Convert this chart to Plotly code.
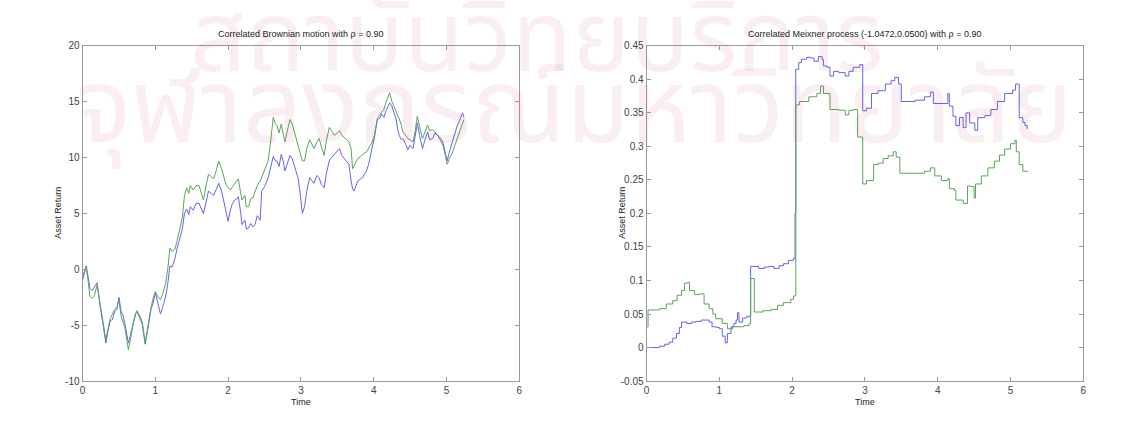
import plotly.graph_objects as go

# ---------------- Correlated Brownian motion (rho = 0.90) ----------------
bm_time = [
    0.00, 0.03, 0.05, 0.08, 0.10, 0.13, 0.16, 0.20, 0.23, 0.27, 0.30, 0.32, 0.35, 0.38, 0.41,
    0.44, 0.47, 0.50, 0.53, 0.55, 0.58, 0.60, 0.63, 0.66, 0.70, 0.73, 0.75, 0.78, 0.82, 0.84,
    0.86, 0.89, 0.91, 0.94, 0.97, 1.00, 1.03, 1.07, 1.10, 1.14, 1.17, 1.20, 1.23, 1.27, 1.30,
    1.34, 1.37, 1.40, 1.43, 1.46, 1.48, 1.52, 1.56, 1.60, 1.63, 1.66, 1.70, 1.73, 1.77, 1.80,
    1.84, 1.87, 1.91, 1.94, 1.97, 2.00, 2.03, 2.06, 2.09, 2.12, 2.14, 2.17, 2.19, 2.23, 2.25,
    2.28, 2.31, 2.34, 2.37, 2.40, 2.44, 2.46, 2.50, 2.55, 2.58, 2.62, 2.65, 2.67, 2.70, 2.73,
    2.76, 2.78, 2.81, 2.85, 2.88, 2.90, 2.93, 2.96, 2.99, 3.02, 3.05, 3.08, 3.12, 3.15, 3.18,
    3.22, 3.25, 3.28, 3.32, 3.35, 3.39, 3.42, 3.46, 3.50, 3.53, 3.56, 3.60, 3.63, 3.66, 3.69,
    3.71, 3.73, 3.76, 3.78, 3.82, 3.85, 3.87, 3.90, 3.93, 3.96, 3.98, 4.01, 4.05, 4.08, 4.11,
    4.14, 4.17, 4.20, 4.22, 4.25, 4.28, 4.31, 4.33, 4.35, 4.38, 4.40, 4.44, 4.47, 4.50, 4.54,
    4.57, 4.60, 4.63, 4.67, 4.70, 4.74, 4.77, 4.81, 4.84, 4.88, 4.91, 4.95, 4.98, 5.01, 5.04,
    5.08, 5.11, 5.15, 5.18, 5.22, 5.24,
]
bm_asset1 = [
    -1.0, -0.3, 0.3, -0.8, -1.7, -1.9, -1.6, -1.2, -2.8, -4.5, -6.0, -6.6, -5.5, -4.6, -4.5,
    -3.8, -3.6, -2.5, -3.8, -4.0, -4.8, -5.6, -6.6, -5.8, -4.6, -3.9, -3.8, -4.3, -4.9, -5.8,
    -6.7, -5.6, -4.7, -3.6, -3.0, -2.1, -2.9, -4.0, -3.4, -2.5, -1.3, 0.3, 0.2, 1.0, 1.9,
    2.9, 3.6, 5.0, 5.4, 4.9, 5.6, 5.3, 5.9, 5.9, 5.4, 5.0, 6.1, 7.0, 6.8, 6.6,
    7.2, 7.7, 7.0, 6.2, 5.2, 4.3, 5.3, 5.9, 6.2, 6.3, 6.5, 5.2, 4.0, 4.4, 3.6,
    3.7, 4.1, 3.8, 4.0, 4.8, 4.4, 7.0, 7.4, 8.2, 9.0, 10.1, 9.7, 9.7, 9.2, 10.3,
    9.6, 8.8, 9.4, 10.2, 9.9, 9.5, 8.8, 8.2, 6.8, 5.0, 5.6, 7.0, 8.2, 7.9, 7.7,
    8.4, 8.2, 7.6, 7.3, 8.6, 9.7, 10.0, 10.3, 10.5, 10.8, 10.2, 9.9, 9.6, 9.4, 7.9,
    7.2, 7.0, 7.6, 7.9, 8.1, 8.2, 8.5, 8.8, 9.4, 10.3, 10.8, 11.8, 13.4, 13.5, 13.9,
    13.6, 14.2, 14.6, 14.9, 14.6, 14.0, 13.4, 12.5, 12.0, 11.6, 11.7, 11.2, 10.7, 11.1, 10.8,
    11.9, 13.1, 12.0, 10.8, 11.5, 12.3, 11.6, 11.7, 12.2, 12.0, 11.8, 11.4, 10.6, 9.7, 10.5,
    11.4, 12.1, 12.9, 13.3, 14.0, 13.6,
]
bm_asset2 = [
    -0.6, -0.2, 0.2, -1.2, -2.4, -2.6, -2.4, -1.4, -2.6, -4.2, -5.7, -6.3, -5.3, -4.4, -4.0,
    -3.6, -3.4, -2.8, -4.2, -4.6, -5.2, -6.0, -7.2, -6.2, -4.7, -4.0, -3.7, -4.1, -4.7, -5.6,
    -6.6, -5.4, -4.4, -3.4, -2.6, -2.0, -2.4, -2.7, -2.2, -1.3, 0.0, 1.9, 1.6, 1.8, 2.6,
    3.6, 4.6, 6.6, 7.3, 6.8, 7.5, 7.1, 7.5, 7.5, 6.8, 6.2, 7.6, 8.5, 8.3, 8.1,
    8.9, 9.7, 9.0, 8.2, 7.6, 7.3, 7.1, 7.4, 7.7, 7.9, 8.1, 6.9, 6.2, 6.6, 5.6,
    5.6, 6.3, 6.4, 7.0, 7.5, 7.9, 8.2, 8.9, 9.7, 11.2, 13.6, 13.0, 12.9, 12.2, 13.0,
    12.0, 11.4, 12.3, 13.4, 13.0, 12.5, 11.8, 11.2, 10.4, 9.7, 9.7, 10.8, 11.6, 11.2, 10.8,
    11.4, 11.7, 11.0, 10.2, 11.5, 12.7, 12.4, 12.0, 12.2, 12.4, 12.0, 11.8, 11.6, 11.4, 10.8,
    9.0, 9.3, 9.6, 9.9, 10.1, 10.3, 10.4, 10.5, 10.8, 11.1, 11.4, 12.0, 13.5, 13.8, 14.1,
    14.3, 15.0, 15.5, 15.8, 15.0, 14.6, 14.1, 13.7, 13.5, 12.9, 12.3, 12.0, 11.7, 11.6, 11.4,
    12.4, 13.7, 12.8, 11.7, 12.2, 12.9, 12.4, 12.5, 12.3, 12.0, 11.6, 11.1, 10.3, 9.4, 9.9,
    10.4, 11.0, 11.7, 12.3, 13.1, 13.4,
]

# ---------------- Correlated Meixner process (pure-jump paths) ----------------
mx_time1 = [
    0.00, 0.18, 0.25, 0.31, 0.36, 0.41, 0.45, 0.48, 0.55, 0.62, 0.68, 0.75, 0.79, 0.86, 0.90,
    0.96, 1.00, 1.04, 1.08, 1.11, 1.16, 1.20, 1.23, 1.25, 1.27, 1.32, 1.37, 1.42, 1.43, 1.54,
    1.62, 1.68, 1.75, 1.82, 1.88, 1.95, 2.02, 2.04, 2.05, 2.09, 2.13, 2.20, 2.25, 2.30, 2.36,
    2.41, 2.43, 2.48, 2.52, 2.57, 2.64, 2.73, 2.78, 2.84, 2.93, 2.97, 3.02, 3.09, 3.18, 3.28,
    3.36, 3.41, 3.46, 3.50, 3.69, 3.82, 3.90, 3.94, 4.14, 4.16, 4.21, 4.25, 4.30, 4.35, 4.39,
    4.44, 4.51, 4.55, 4.65, 4.73, 4.82, 4.92, 5.03, 5.07, 5.12, 5.17, 5.20, 5.23,
]
mx_asset1 = [
    0.000, 0.002, 0.005, 0.008, 0.014, 0.021, 0.030, 0.038, 0.036, 0.038, 0.039, 0.041, 0.041, 0.038, 0.031,
    0.030, 0.028, 0.017, 0.007, 0.021, 0.031, 0.036, 0.041, 0.052, 0.038, 0.044, 0.046, 0.048, 0.121, 0.118,
    0.120, 0.121, 0.118, 0.122, 0.125, 0.130, 0.133, 0.200, 0.415, 0.425, 0.430, 0.433, 0.432, 0.427, 0.434,
    0.430, 0.420, 0.418, 0.405, 0.412, 0.410, 0.405, 0.412, 0.418, 0.422, 0.353, 0.357, 0.379, 0.383, 0.393,
    0.398, 0.403, 0.393, 0.367, 0.369, 0.374, 0.381, 0.364, 0.379, 0.360, 0.345, 0.331, 0.343, 0.328, 0.350,
    0.335, 0.324, 0.343, 0.346, 0.355, 0.367, 0.379, 0.384, 0.393, 0.343, 0.336, 0.331, 0.326,
]
mx_time2 = [
    0.00, 0.02, 0.18, 0.27, 0.36, 0.42, 0.48, 0.52, 0.56, 0.59, 0.66, 0.72, 0.79, 0.86, 0.91,
    0.95, 1.04, 1.11, 1.18, 1.34, 1.41, 1.43, 1.48, 1.60, 1.71, 1.80, 1.88, 1.98, 2.02, 2.05,
    2.10, 2.23, 2.34, 2.39, 2.43, 2.52, 2.64, 2.73, 2.78, 2.84, 2.90, 2.97, 3.02, 3.12, 3.18,
    3.25, 3.32, 3.39, 3.43, 3.48, 3.69, 3.82, 3.90, 3.96, 4.05, 4.14, 4.16, 4.23, 4.25, 4.35,
    4.41, 4.46, 4.50, 4.52, 4.60, 4.69, 4.78, 4.85, 4.92, 5.00, 5.06, 5.08, 5.12, 5.17, 5.23,
]
mx_asset2 = [
    0.031, 0.056, 0.058, 0.065, 0.070, 0.078, 0.085, 0.096, 0.097, 0.085, 0.079, 0.080, 0.065, 0.058, 0.050,
    0.043, 0.036, 0.028, 0.031, 0.033, 0.036, 0.103, 0.053, 0.055, 0.057, 0.063, 0.067, 0.072, 0.077, 0.362,
    0.367, 0.374, 0.379, 0.390, 0.379, 0.355, 0.354, 0.347, 0.354, 0.355, 0.314, 0.244, 0.249, 0.273, 0.275,
    0.282, 0.286, 0.292, 0.284, 0.260, 0.260, 0.263, 0.268, 0.256, 0.249, 0.252, 0.237, 0.234, 0.220, 0.215,
    0.241, 0.240, 0.223, 0.244, 0.256, 0.268, 0.278, 0.287, 0.296, 0.304, 0.309, 0.292, 0.273, 0.263, 0.262,
]

x_ticks = [0, 1, 2, 3, 4, 5, 6]
bm_yticks = [-10, -5, 0, 5, 10, 15, 20]
mx_yticks = [-0.05, 0, 0.05, 0.1, 0.15, 0.2, 0.25, 0.3, 0.35, 0.4, 0.45]
mx_ytext = ["-0.05", "0", "0.05", "0.1", "0.15", "0.2", "0.25", "0.3", "0.35", "0.4", "0.45"]

BLUE = "rgb(100,100,232)"
GREEN = "rgb(90,165,90)"
FONT = "Liberation Sans, Arial, sans-serif"

fig = go.Figure()
fig.add_trace(go.Scatter(x=bm_time, y=bm_asset1, mode="lines",
                         line=dict(color=BLUE, width=1), xaxis="x", yaxis="y"))
fig.add_trace(go.Scatter(x=bm_time, y=bm_asset2, mode="lines",
                         line=dict(color=GREEN, width=1), xaxis="x", yaxis="y"))
fig.add_trace(go.Scatter(x=mx_time1, y=mx_asset1, mode="lines",
                         line=dict(color=BLUE, width=1, shape="hv"), xaxis="x2", yaxis="y2"))
fig.add_trace(go.Scatter(x=mx_time2, y=mx_asset2, mode="lines",
                         line=dict(color=GREEN, width=1, shape="hv"), xaxis="x2", yaxis="y2"))

axis_common = dict(
    showline=True, linecolor="#9a9a9a", linewidth=1, mirror="ticks",
    ticks="inside", ticklen=4, tickcolor="#9a9a9a", tickwidth=1,
    showgrid=False, zeroline=False,
    tickfont=dict(family=FONT, size=10, color="#444444"),
)
y_top, y_bot = 1 - 41 / 424, 1 - 386 / 424
left_dom = [80 / 1133, 519 / 1133]
right_dom = [647 / 1133, 1086 / 1133]

fig.update_layout(
    width=1133, height=424,
    margin=dict(l=0, r=0, t=0, b=0),
    paper_bgcolor="white", plot_bgcolor="white",
    showlegend=False,
    xaxis=dict(domain=left_dom, range=[0, 6], tickvals=x_ticks, anchor="y", **axis_common),
    yaxis=dict(domain=[y_bot, y_top], range=[-10, 20], tickvals=bm_yticks,
               ticktext=[str(v) for v in bm_yticks], anchor="x", **axis_common),
    xaxis2=dict(domain=right_dom, range=[0, 6], tickvals=x_ticks, anchor="y2", **axis_common),
    yaxis2=dict(domain=[y_bot, y_top], range=[-0.05, 0.45], tickvals=mx_yticks,
                ticktext=mx_ytext, anchor="x2", **axis_common),
)

# Faint institutional watermark across the page (drawn first, under the labels)
wm_top = dict(family="Noto Sans Thai, Noto Sans, sans-serif", size=98,
              color="rgba(200,70,110,0.09)")
wm_bottom = dict(family="Noto Sans Thai, Noto Sans, sans-serif", size=104,
                 color="rgba(200,70,110,0.09)")
ann = [
    dict(text="สถาบันวิทยบริการ", x=537 / 1133, y=1 - 36 / 424, xref="paper", yref="paper",
         showarrow=False, font=wm_top, xanchor="center", yanchor="middle"),
    dict(text="จุฬาลงกรณ์มหาวิทยาลัย", x=575 / 1133, y=1 - 108 / 424, xref="paper",
         yref="paper", showarrow=False, font=wm_bottom, xanchor="center", yanchor="middle"),
]

label_font = dict(family=FONT, size=9, color="#222222")
for dom, title in [(left_dom, "Correlated Brownian motion with \u03c1 = 0.90"),
                   (right_dom, "Correlated Meixner process (-1.0472,0.0500) with \u03c1 = 0.90")]:
    cx = (dom[0] + dom[1]) / 2
    ann.append(dict(text=title, x=cx, y=1 - 29 / 424, xref="paper", yref="paper",
                    showarrow=False, font=label_font, xanchor="center", yanchor="middle"))
    ann.append(dict(text="Time", x=cx, y=1 - 408 / 424, xref="paper", yref="paper",
                    showarrow=False, font=label_font, xanchor="center", yanchor="middle"))
for px in (55, 622):
    ann.append(dict(text="Asset Return", x=px / 1133, y=1 - 213 / 424, xref="paper", yref="paper",
                    showarrow=False, font=label_font, textangle=-90,
                    xanchor="center", yanchor="middle"))
fig.update_layout(annotations=ann)

fig.write_html("out.html")
